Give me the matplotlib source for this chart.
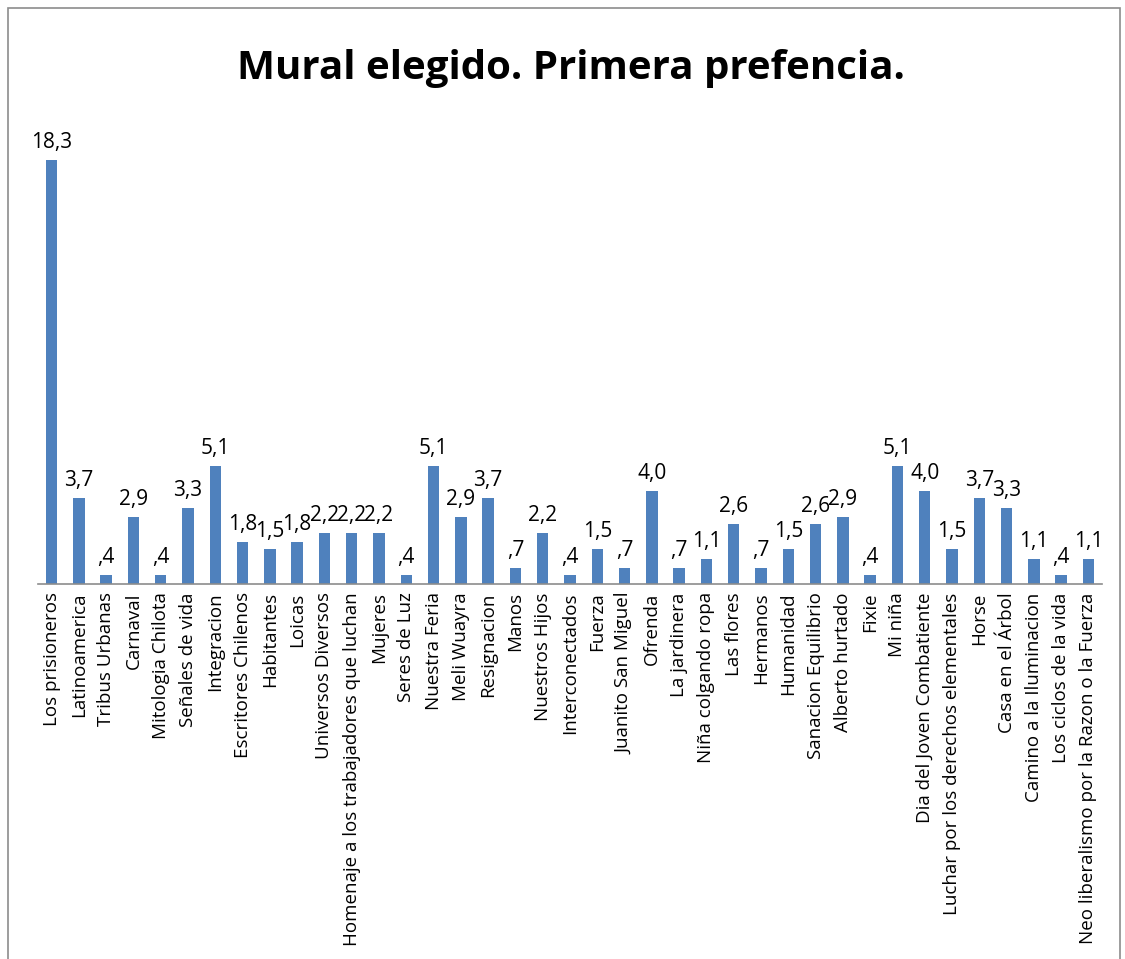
import matplotlib
matplotlib.use("Agg")
import matplotlib.pyplot as plt
from matplotlib.patches import Rectangle

categories = [
    "Los prisioneros", "Latinoamerica", "Tribus Urbanas", "Carnaval", "Mitologia Chilota",
    "Señales de vida", "Integracion", "Escritores Chilenos", "Habitantes", "Loicas",
    "Universos Diversos", "Homenaje a los trabajadores que luchan", "Mujeres", "Seres de Luz",
    "Nuestra Feria", "Meli Wuayra", "Resignacion", "Manos", "Nuestros Hijos", "Interconectados",
    "Fuerza", "Juanito San Miguel", "Ofrenda", "La jardinera", "Niña colgando ropa", "Las flores",
    "Hermanos", "Humanidad", "Sanacion Equilibrio", "Alberto hurtado", "Fixie", "Mi niña",
    "Dia del Joven Combatiente", "Luchar por los derechos elementales", "Horse", "Casa en el Árbol",
    "Camino a la Iluminacion", "Los ciclos de la vida", "Neo liberalismo por la Razon o la Fuerza",
]
values = [
    18.3, 3.7, 0.4, 2.9, 0.4, 3.3, 5.1, 1.8, 1.5, 1.8,
    2.2, 2.2, 2.2, 0.4, 5.1, 2.9, 3.7, 0.7, 2.2, 0.4,
    1.5, 0.7, 4.0, 0.7, 1.1, 2.6, 0.7, 1.5, 2.6, 2.9,
    0.4, 5.1, 4.0, 1.5, 3.7, 3.3, 1.1, 0.4, 1.1,
]
title = "Mural elegido. Primera prefencia."

W, H = 1125, 959
fig = plt.figure(figsize=(W / 100, H / 100), dpi=100)
fig.patch.set_facecolor("white")

# outer chart frame
fig.patches.append(Rectangle((8 / W, -0.05), (1120 - 8) / W, 1.05 - 8 / H,
                             transform=fig.transFigure, fill=False,
                             edgecolor="#8c8c8c", linewidth=1.2))

ax_left, ax_right = 38 / W, 1102 / W
ax_bottom = (H - 584) / H
ax_top = (H - 120.6) / H
ax = fig.add_axes([ax_left, ax_bottom, ax_right - ax_left, ax_top - ax_bottom])

x = list(range(len(categories)))
ax.bar(x, values, width=0.42, color="#4F81BD")
ax.set_xlim(-0.5, len(categories) - 0.5)
ax.set_ylim(0, 20)

for s in ["top", "right", "left"]:
    ax.spines[s].set_visible(False)
ax.spines["bottom"].set_color("#8c8c8c")
ax.spines["bottom"].set_linewidth(1.2)
ax.set_yticks([])
ax.set_xticks(x)
ax.set_xticklabels(categories, rotation=90, fontsize=13.5, family="Open Sans")
ax.tick_params(axis="x", length=0, pad=6)

def fmt(v):
    s = f"{v:.1f}".replace(".", ",")
    if s.startswith("0"):
        s = s[1:]
    return s

for xi, v in zip(x, values):
    ax.annotate(fmt(v), (xi, v), xytext=(0, 5), textcoords="offset points",
                ha="center", va="bottom", fontsize=15, family="Open Sans")

fig.text(571 / W, (H - 68) / H, title, ha="center", va="center",
         fontsize=29, fontweight="bold", family="Open Sans")

fig.savefig("out.png", dpi=100)
